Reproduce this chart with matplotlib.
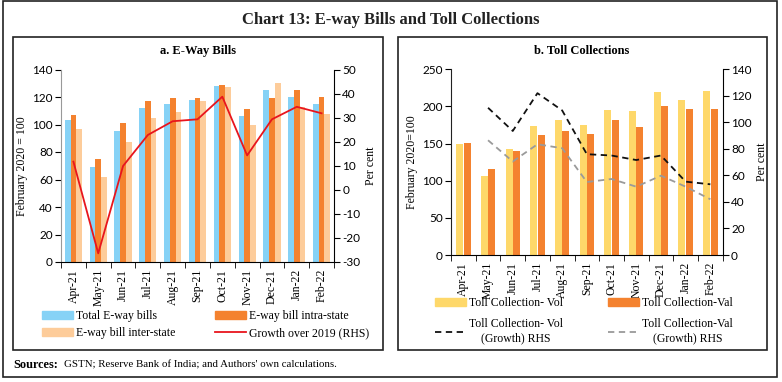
import matplotlib.pyplot as plt
from matplotlib.patches import Rectangle, Patch
from matplotlib.lines import Line2D
import numpy as np

months = ["Apr-21", "May-21", "Jun-21", "Jul-21", "Aug-21", "Sep-21",
          "Oct-21", "Nov-21", "Dec-21", "Jan-22", "Feb-22"]

# a. E-way bills (February 2020 = 100)
eway_total = [103, 69, 95, 112, 115, 118, 128, 106, 125, 120, 115]
eway_intra = [107, 75, 101, 117, 119, 119, 129, 111, 119, 125, 120]
eway_inter = [97, 62, 87, 105, 109, 117, 127, 100, 130, 113, 108]
eway_growth = [11.7, -26.4, 9.9, 22.8, 28.5, 29.3, 38.7, 14.3, 29.3, 34.5, 31.8]

# b. Toll collections (February 2020 = 100)
toll_vol = [149, 106, 143, 174, 182, 175, 195, 194, 220, 209, 221]
toll_val = [151, 116, 140, 161, 167, 163, 182, 172, 200, 196, 197]
toll_vol_growth = [np.nan, 111, 93.5, 122, 109, 76, 75, 71.6, 75, 55.3, 53.3]
toll_val_growth = [np.nan, 86.5, 70.5, 83.5, 80.5, 55, 57.3, 51.5, 59.8, 51.5, 42]

SERIF = "Liberation Serif"
NUM = "Lato"
C_BLUE = "#86d2f6"
C_ORANGE = "#f4822f"
C_PEACH = "#fdcc9a"
C_YELLOW = "#fed86a"
C_RED = "#e8151d"
FS = 8.5

plt.rcParams['font.family'] = [SERIF, 'DejaVu Sans']
plt.rcParams['axes.unicode_minus'] = False

fig = plt.figure(figsize=(7.82, 3.82), dpi=100)
W, H = 782, 382


def fx(px):
    return px / W


def fy(py):
    return 1 - py / H


# frames
fig.patches.append(Rectangle((fx(3), fy(377)), fx(774), (377 - 1) / H, transform=fig.transFigure,
                             fill=False, lw=1.2, ec="#222222"))
fig.patches.append(Rectangle((fx(13), fy(350)), fx(370), (350 - 37) / H, transform=fig.transFigure,
                             fill=False, lw=1.2, ec="#222222"))
fig.patches.append(Rectangle((fx(398), fy(350)), fx(369), (350 - 37) / H, transform=fig.transFigure,
                             fill=False, lw=1.2, ec="#222222"))

fig.text(0.5, fy(20), "Chart 13: E-way Bills and Toll Collections", ha="center", va="center",
         fontsize=12, fontweight="bold", color="#222222")
fig.text(fx(198), fy(51), "a. E-Way Bills", ha="center", va="center", fontsize=9, fontweight="bold")
fig.text(fx(582), fy(51), "b. Toll Collections", ha="center", va="center", fontsize=9, fontweight="bold")

fig.text(fx(13), fy(365), "Sources:", ha="left", va="center", fontsize=8.8, fontweight="bold")
fig.text(fx(64), fy(365), "GSTN; Reserve Bank of India; and Authors' own calculations.",
         ha="left", va="center", fontsize=7.8)

x = np.arange(len(months))


def style_axes(ax, ax2, left_color="#222222"):
    ax.set_xlim(-0.5, len(months) - 0.5)
    ax.set_xticks(x)
    ax.set_xticklabels(months, rotation=90, fontsize=FS, family=SERIF)
    ax.set_xticks(np.arange(-0.5, len(months), 1), minor=True)
    ax.tick_params(axis="x", which="major", length=0, pad=5)
    ax.tick_params(axis="x", which="minor", length=4, direction="out")
    ax.tick_params(axis="y", length=4, labelsize=FS, pad=2)
    ax2.tick_params(axis="y", length=4, labelsize=FS, pad=2)
    for lab in ax.get_yticklabels() + ax2.get_yticklabels():
        lab.set_family(NUM)
    for a in (ax, ax2):
        a.spines["top"].set_visible(False)
    ax.spines["right"].set_visible(False)
    ax2.spines["left"].set_visible(False)
    ax.spines["left"].set_color(left_color)
    ax2.spines["bottom"].set_visible(False)


# ---------- panel a ----------
ax1 = fig.add_axes([fx(61), fy(262), fx(273), 192.5 / H])
bw = 0.23
ax1.bar(x - bw, eway_total, bw, color=C_BLUE, zorder=2)
ax1.bar(x, eway_intra, bw, color=C_ORANGE, zorder=2)
ax1.bar(x + bw, eway_inter, bw, color=C_PEACH, zorder=2)
ax1.set_ylim(0, 140)
ax1.set_yticks(range(0, 141, 20))
ax1.set_ylabel("February 2020 = 100", fontsize=FS, labelpad=3)
ax1b = ax1.twinx()
ax1b.plot(x, eway_growth, color=C_RED, lw=1.3)
ax1b.set_ylim(-30, 50)
ax1b.set_yticks(range(-30, 51, 10))
ax1b.set_ylabel("Per cent", fontsize=FS, labelpad=3)
style_axes(ax1, ax1b, left_color="#999999")

leg_kw = dict(loc="upper left", frameon=False, fontsize=FS, handlelength=2.6, handleheight=0.6,
              handletextpad=0.3, labelspacing=0.45, borderpad=0, borderaxespad=0,
              bbox_transform=fig.transFigure)
fig.legend(handles=[Patch(color=C_BLUE, label="Total E-way bills"),
                    Patch(color=C_PEACH, label="E-way bill inter-state")],
           bbox_to_anchor=(fx(42), fy(310)), **leg_kw)
fig.legend(handles=[Patch(color=C_ORANGE, label="E-way bill intra-state"),
                    Line2D([], [], color=C_RED, lw=1.3, label="Growth over 2019 (RHS)")],
           bbox_to_anchor=(fx(215), fy(310)), **leg_kw)

# ---------- panel b ----------
ax2 = fig.add_axes([fx(451), fy(255), fx(271.7), 185.7 / H])
bw2 = 0.28
ax2.bar(x - 0.15, toll_vol, bw2, color=C_YELLOW, zorder=2)
ax2.bar(x + 0.15, toll_val, bw2, color=C_ORANGE, zorder=2)
ax2.set_ylim(0, 250)
ax2.set_yticks(range(0, 251, 50))
ax2.set_ylabel("February 2020=100", fontsize=FS, labelpad=3)
ax2b = ax2.twinx()
ax2b.plot(x, toll_vol_growth, color="#111111", lw=1.3, ls=(0, (3.5, 2.5)))
ax2b.plot(x, toll_val_growth, color="#9a9a9a", lw=1.3, ls=(0, (3.5, 2.5)))
ax2b.set_ylim(0, 140)
ax2b.set_yticks(range(0, 141, 20))
ax2b.set_ylabel("Per cent", fontsize=FS, labelpad=3)
style_axes(ax2, ax2b)

leg_kw2 = dict(leg_kw, labelspacing=0.8)
l3 = fig.legend(handles=[Patch(color=C_YELLOW, label="Toll Collection- Vol"),
                         Line2D([], [], color="#111111", lw=1.3, ls=(0, (3.5, 2.5)),
                                label="Toll Collection- Vol\n(Growth) RHS")],
                bbox_to_anchor=(fx(435), fy(297)), **leg_kw2)
l4 = fig.legend(handles=[Patch(color=C_ORANGE, label="Toll Collection-Val"),
                         Line2D([], [], color="#9a9a9a", lw=1.3, ls=(0, (3.5, 2.5)),
                                label="Toll Collection-Val\n(Growth) RHS")],
                bbox_to_anchor=(fx(608), fy(297)), **leg_kw2)
for leg in (l3, l4):
    for txt in leg.get_texts():
        txt.set_multialignment("center")

fig.savefig("out.png", dpi=100)
